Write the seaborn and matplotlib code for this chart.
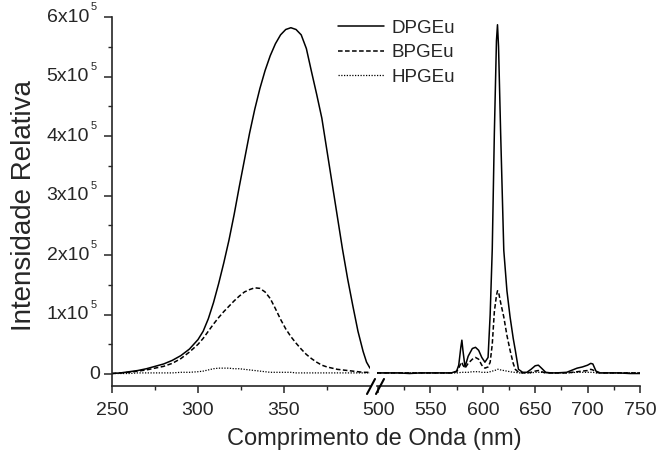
import numpy as np
import pandas as pd
import matplotlib
matplotlib.use("Agg")
import matplotlib.pyplot as plt
import seaborn as sns
from matplotlib.ticker import MultipleLocator, FixedLocator

# excitation part (left of the break), intensity in units of 1e5
exc_nm = [250, 255, 260, 265, 270, 275, 280, 285, 290, 295, 300, 303, 306,
          309, 312, 315, 318, 321, 324, 327, 330, 333, 336, 339, 342, 345,
          348, 351, 354, 357, 360, 363, 366, 369, 372, 375, 378, 381, 384,
          387, 390, 393, 396, 398, 400]
d_exc = [0.01, 0.02, 0.04, 0.06, 0.09, 0.13, 0.17, 0.23, 0.31, 0.42, 0.58,
         0.72, 0.93, 1.2, 1.52, 1.87, 2.25, 2.68, 3.15, 3.6, 4.05, 4.45, 4.8,
         5.1, 5.35, 5.55, 5.7, 5.79, 5.82, 5.79, 5.7, 5.47, 5.08, 4.7, 4.3,
         3.75, 3.2, 2.65, 2.1, 1.6, 1.15, 0.72, 0.38, 0.2, 0.1]
b_exc = [0.01, 0.02, 0.03, 0.05, 0.07, 0.1, 0.13, 0.18, 0.26, 0.37, 0.5, 0.6,
         0.72, 0.84, 0.95, 1.05, 1.14, 1.23, 1.31, 1.38, 1.42, 1.45, 1.44,
         1.38, 1.27, 1.1, 0.92, 0.76, 0.63, 0.52, 0.42, 0.33, 0.26, 0.2, 0.15,
         0.12, 0.1, 0.08, 0.07, 0.06, 0.05, 0.04, 0.03, 0.03, 0.03]
h_exc = [0.01, 0.01, 0.01, 0.02, 0.02, 0.02, 0.02, 0.02, 0.03, 0.03, 0.04,
         0.05, 0.07, 0.09, 0.1, 0.1, 0.1, 0.09, 0.09, 0.08, 0.07, 0.06, 0.05,
         0.04, 0.03, 0.03, 0.03, 0.03, 0.03, 0.02, 0.02, 0.02, 0.02, 0.02,
         0.02, 0.02, 0.02, 0.02, 0.02, 0.02, 0.02, 0.02, 0.02, 0.02, 0.02]

# emission part (right of the break)
em_nm = [499, 510, 520, 530, 540, 550, 560, 570, 575, 577, 579, 580, 581, 583,
         586, 590, 593, 596, 599, 602, 605, 607, 609, 611, 613, 614, 615, 617,
         620, 623, 626, 629, 631, 634, 638, 642, 646, 650, 653, 656, 660, 665,
         670, 680, 690, 695, 700, 703, 705, 708, 712, 720, 730, 740, 750]
d_em = [0.02, 0.02, 0.02, 0.01, 0.02, 0.02, 0.02, 0.02, 0.05, 0.15, 0.45, 0.57,
        0.4, 0.12, 0.3, 0.43, 0.45, 0.4, 0.28, 0.2, 0.28, 1.0, 2.1, 4.05, 5.6,
        5.87, 5.5, 4.05, 2.08, 1.4, 0.96, 0.6, 0.4, 0.08, 0.03, 0.03, 0.08,
        0.14, 0.15, 0.1, 0.03, 0.02, 0.02, 0.03, 0.1, 0.12, 0.15, 0.18, 0.17,
        0.05, 0.02, 0.02, 0.02, 0.01, 0.01]
b_em = [0.02, 0.02, 0.02, 0.02, 0.02, 0.02, 0.02, 0.02, 0.04, 0.1, 0.18, 0.2,
        0.15, 0.1, 0.18, 0.25, 0.28, 0.25, 0.15, 0.1, 0.12, 0.2, 0.5, 1.05,
        1.32, 1.4, 1.38, 1.2, 0.96, 0.65, 0.4, 0.18, 0.08, 0.03, 0.02, 0.02,
        0.03, 0.05, 0.06, 0.04, 0.02, 0.02, 0.02, 0.02, 0.04, 0.05, 0.06, 0.08,
        0.07, 0.03, 0.02, 0.02, 0.02, 0.02, 0.02]
h_em = [0.02, 0.02, 0.02, 0.02, 0.02, 0.02, 0.02, 0.02, 0.02, 0.02, 0.03, 0.03,
        0.03, 0.03, 0.03, 0.04, 0.04, 0.04, 0.03, 0.03, 0.03, 0.04, 0.05, 0.06,
        0.07, 0.08, 0.08, 0.07, 0.06, 0.05, 0.04, 0.03, 0.03, 0.02, 0.02, 0.02,
        0.02, 0.03, 0.03, 0.03, 0.02, 0.02, 0.02, 0.02, 0.03, 0.03, 0.03, 0.03,
        0.03, 0.02, 0.02, 0.02, 0.02, 0.02, 0.02]

series = ["DPGEu", "BPGEu", "HPGEu"]
y_ticks = [0, 1, 2, 3, 4, 5, 6]

sns.set_style("ticks")
plt.rcParams["font.family"] = ["Liberation Sans", "DejaVu Sans"]

exc = pd.DataFrame({"nm": exc_nm * 3,
                    "val": np.array(d_exc + b_exc + h_exc) * 1e5,
                    "sample": np.repeat(series, len(exc_nm))})
em = pd.DataFrame({"nm": em_nm * 3,
                   "val": np.array(d_em + b_em + h_em) * 1e5,
                   "sample": np.repeat(series, len(em_nm))})

styles = {"DPGEu": dict(ls="-", lw=1.1),
          "BPGEu": dict(ls=(0, (3, 1.6)), lw=1.1),
          "HPGEu": dict(ls=(0, (1, 1.2)), lw=0.9)}

W, H = 656, 454
fig = plt.figure(figsize=(W / 100, H / 100), dpi=100)

bottom = (H - 386) / H
height = (386 - 17) / H
ax1 = fig.add_axes([112 / W, bottom, (370 - 112) / W, height])
ax2 = fig.add_axes([377 / W, bottom, (640 - 377) / W, height])

for ax, df in [(ax1, exc), (ax2, em)]:
    for name in series:
        sub = df[df["sample"] == name]
        sns.lineplot(data=sub, x="nm", y="val", ax=ax, color="black",
                     label=name, estimator=None, sort=False, **styles[name])
    ax.set_ylim(-0.2e5, 6.0e5)
    ax.set_xlabel("")
    ax.set_ylabel("")
    ax.legend().remove()
    for s in ["top", "right"]:
        ax.spines[s].set_visible(False)
    ax.spines["bottom"].set_linewidth(1.2)
    ax.tick_params(axis="x", which="major", length=5, width=1.1,
                   labelsize=14, pad=6.5, direction="out")
    ax.tick_params(axis="x", which="minor", length=3, width=1.0,
                   direction="out")

ax1.set_xlim(250, 400)
ax1.xaxis.set_major_locator(FixedLocator([250, 300, 350]))
ax1.xaxis.set_minor_locator(FixedLocator([275, 325, 375]))
ax1.spines["left"].set_linewidth(1.2)
ax1.set_yticks([v * 1e5 for v in y_ticks])
ax1.set_yticklabels([])
ax1.yaxis.set_minor_locator(MultipleLocator(0.5e5))
ax1.tick_params(axis="y", which="major", length=6, width=1.1,
                direction="out")
ax1.tick_params(axis="y", which="minor", length=3, width=1.0,
                direction="out")

# y tick labels written as "Nx10" with a small raised 5
ytr = ax1.get_yaxis_transform()
for v in y_ticks:
    if v == 0:
        ax1.annotate("0", xy=(0, 0), xycoords=ytr, xytext=(-12, 0),
                     textcoords="offset pixels", ha="right", va="center",
                     fontsize=14)
        continue
    ax1.annotate("%dx10" % v, xy=(0, v * 1e5), xycoords=ytr,
                 xytext=(-23, 0), textcoords="offset pixels",
                 ha="right", va="center", fontsize=14)
    ax1.annotate("5", xy=(0, v * 1e5), xycoords=ytr, xytext=(-21, 5),
                 textcoords="offset pixels", ha="left", va="bottom",
                 fontsize=8)

ax2.set_xlim(499, 750)
ax2.xaxis.set_major_locator(FixedLocator([500, 550, 600, 650, 700, 750]))
ax2.xaxis.set_minor_locator(FixedLocator([525, 575, 625, 675, 725]))
ax2.spines["left"].set_visible(False)
ax2.set_yticks([])
ax2.patch.set_alpha(0)

# break marks on the x axis
for xp in [371, 380]:
    fig.add_artist(plt.Line2D([(xp - 4) / W, (xp + 4) / W],
                              [(H - 394) / H, (H - 379) / H],
                              color="black", lw=1.5))

handles, labels = ax1.get_legend_handles_labels()
fig.legend(handles, labels, loc="upper left",
           bbox_to_anchor=(330 / W, 1 - 12 / H), frameon=False,
           fontsize=13.5, handlelength=2.5, handletextpad=0.37,
           labelspacing=0.4, borderaxespad=0)

fig.text(374 / W, 1 - 439 / H, "Comprimento de Onda (nm)",
         ha="center", va="center", fontsize=17)
fig.text(24 / W, 1 - 206 / H, "Intensidade Relativa", rotation=90,
         ha="center", va="center", fontsize=20)

fig.savefig("out.png", dpi=100)
